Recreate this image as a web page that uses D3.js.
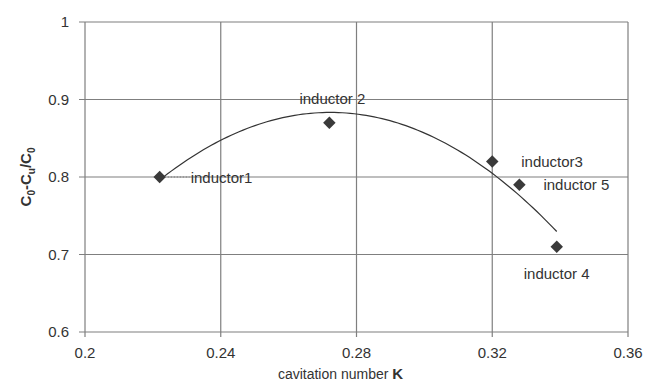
<!DOCTYPE html>
<html>
<head>
<meta charset="utf-8">
<script src="https://cdn.jsdelivr.net/npm/d3@7"></script>
<style>
  html, body { margin: 0; padding: 0; background: #fff; }
  svg { display: block; }
  text { font-family: "Liberation Sans", Arial, sans-serif; fill: #333; }
</style>
</head>
<body>
<svg id="chart" width="648" height="384"></svg>
<script>
// Inductor measurements
const names = ["inductor1", "inductor 2", "inductor3", "inductor 4", "inductor 5"];
const cavitation = [0.222, 0.272, 0.320, 0.339, 0.328];
const efficiency = [0.80, 0.87, 0.82, 0.71, 0.79];

// Axis ticks
const xTicks = [0.2, 0.24, 0.28, 0.32, 0.36];
const xTickLabels = ["0.2", "0.24", "0.28", "0.32", "0.36"];
const yTicks = [0.6, 0.7, 0.8, 0.9, 1];
const yTickLabels = ["0.6", "0.7", "0.8", "0.9", "1"];

// Label placement relative to each marker: [dx, dy, anchor]
const labelPlacement = [
  [31, 1, "start"],
  [3, -24, "middle"],
  [29, 0, "start"],
  [-33, 27, "start"],
  [24, 0, "start"]
];

const svg = d3.select("#chart");
const x = d3.scaleLinear().domain([0.2, 0.36]).range([85, 628]);
const y = d3.scaleLinear().domain([0.6, 1]).range([332, 22]);

const gridColor = "#7f7f7f";

// Horizontal gridlines (extend left as tick marks)
svg.append("g").selectAll("line").data(yTicks).join("line")
  .attr("x1", x(0.2) - 6).attr("x2", x(0.36))
  .attr("y1", d => y(d)).attr("y2", d => y(d))
  .attr("stroke", gridColor).attr("stroke-width", 1.2);

// Vertical gridlines (extend down as tick marks)
svg.append("g").selectAll("line").data(xTicks).join("line")
  .attr("x1", d => x(d)).attr("x2", d => x(d))
  .attr("y1", y(1)).attr("y2", y(0.6) + 5)
  .attr("stroke", gridColor).attr("stroke-width", 1.2);

// Tick labels
svg.append("g").selectAll("text").data(yTicks).join("text")
  .attr("x", x(0.2) - 16).attr("y", d => y(d))
  .attr("dy", "0.35em").attr("text-anchor", "end")
  .attr("font-size", 15)
  .text((d, i) => yTickLabels[i]);

svg.append("g").selectAll("text").data(xTicks).join("text")
  .attr("x", d => x(d)).attr("y", 353)
  .attr("dy", "0.35em").attr("text-anchor", "middle")
  .attr("font-size", 15)
  .text((d, i) => xTickLabels[i]);

// Axis titles
const xt = svg.append("text")
  .attr("x", (x(0.2) + x(0.36)) / 2 - 16).attr("y", 379)
  .attr("text-anchor", "middle").attr("font-size", 14);
xt.append("tspan").text("cavitation number ");
xt.append("tspan").attr("font-weight", "bold").attr("font-size", 15).text("K");

const yt = svg.append("text")
  .attr("transform", `translate(31, ${y(0.8)}) rotate(-90)`)
  .attr("text-anchor", "middle").attr("font-size", 15).attr("font-weight", "bold");
yt.append("tspan").text("C");
yt.append("tspan").attr("font-size", 10).attr("dy", 4).text("0");
yt.append("tspan").attr("dy", -4).text("-C");
yt.append("tspan").attr("font-size", 10).attr("dy", 4).text("u");
yt.append("tspan").attr("dy", -4).text("/C");
yt.append("tspan").attr("font-size", 10).attr("dy", 4).text("0");

// Second-order polynomial trendline (least squares)
const pts = cavitation.map((k, i) => [k, efficiency[i]]);
function polyFit2(p) {
  let s = [0, 0, 0, 0, 0], t = [0, 0, 0];
  p.forEach(([a, b]) => {
    for (let j = 0; j < 5; j++) s[j] += Math.pow(a, j);
    for (let j = 0; j < 3; j++) t[j] += b * Math.pow(a, j);
  });
  const M = [[s[0], s[1], s[2], t[0]], [s[1], s[2], s[3], t[1]], [s[2], s[3], s[4], t[2]]];
  for (let c = 0; c < 3; c++) {
    for (let r = c + 1; r < 3; r++) {
      const f = M[r][c] / M[c][c];
      for (let k = c; k < 4; k++) M[r][k] -= f * M[c][k];
    }
  }
  const co = [0, 0, 0];
  for (let r = 2; r >= 0; r--) {
    let v = M[r][3];
    for (let k = r + 1; k < 3; k++) v -= M[r][k] * co[k];
    co[r] = v / M[r][r];
  }
  return co;
}
const coef = polyFit2(pts);
const [kMin, kMax] = d3.extent(cavitation);
const trend = d3.range(0, 101).map(i => {
  const k = kMin + (kMax - kMin) * i / 100;
  return [k, coef[0] + coef[1] * k + coef[2] * k * k];
});
svg.append("path")
  .datum(trend)
  .attr("d", d3.line().x(d => x(d[0])).y(d => y(d[1])))
  .attr("fill", "none").attr("stroke", "#333").attr("stroke-width", 1.2);

// Diamond markers
const diamond = d3.symbol().type(d3.symbolSquare).size(78);
svg.append("g").selectAll("path").data(pts).join("path")
  .attr("d", diamond)
  .attr("transform", d => `translate(${x(d[0])},${y(d[1])}) rotate(45)`)
  .attr("fill", "#3a3a3a");

// Leader line for the first label
svg.append("line")
  .attr("x1", x(cavitation[0]) + 8).attr("x2", x(cavitation[0]) + 30)
  .attr("y1", y(efficiency[0])).attr("y2", y(efficiency[0]))
  .attr("stroke", "#777").attr("stroke-dasharray", "1.5,1.5");

// Point labels
svg.append("g").selectAll("text").data(pts).join("text")
  .attr("x", (d, i) => x(d[0]) + labelPlacement[i][0])
  .attr("y", (d, i) => y(d[1]) + labelPlacement[i][1])
  .attr("dy", "0.35em")
  .attr("text-anchor", (d, i) => labelPlacement[i][2])
  .attr("font-size", 15)
  .text((d, i) => names[i]);
</script>
</body>
</html>
